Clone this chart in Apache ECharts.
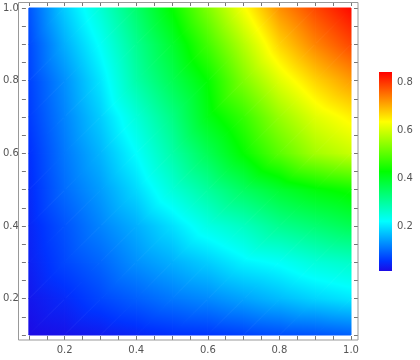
<!DOCTYPE html>
<html><head><meta charset="utf-8">
<script src="https://cdn.jsdelivr.net/npm/echarts@6/dist/echarts.min.js"></script>
<style>html,body{margin:0;padding:0;background:#fff}#c{width:420px;height:360px}</style>
</head><body><div id="c"></div>
<script>
// grid node coordinates
const xValues = [0.1, 0.2, 0.3, 0.4, 0.5, 0.6, 0.7, 0.8, 0.9, 1.0];
const yValues = [0.1, 0.2, 0.3, 0.4, 0.5, 0.6, 0.7, 0.8, 0.9, 1.0];
// values, one list per row (x = 0.1 ... 1.0)
const zY10 = [0.080, 0.180, 0.255, 0.340, 0.430, 0.530, 0.630, 0.725, 0.785, 0.835];
const zY09 = [0.070, 0.155, 0.225, 0.310, 0.390, 0.480, 0.575, 0.670, 0.735, 0.785];
const zY08 = [0.065, 0.130, 0.200, 0.290, 0.360, 0.430, 0.530, 0.610, 0.670, 0.715];
const zY07 = [0.060, 0.120, 0.180, 0.250, 0.320, 0.410, 0.470, 0.550, 0.610, 0.645];
const zY06 = [0.050, 0.110, 0.160, 0.220, 0.290, 0.360, 0.430, 0.500, 0.560, 0.590];
const zY05 = [0.045, 0.100, 0.140, 0.190, 0.250, 0.300, 0.350, 0.390, 0.420, 0.440];
const zY04 = [0.040, 0.080, 0.120, 0.155, 0.195, 0.240, 0.270, 0.310, 0.335, 0.360];
const zY03 = [0.035, 0.070, 0.095, 0.130, 0.155, 0.180, 0.210, 0.225, 0.250, 0.265];
const zY02 = [0.025, 0.045, 0.070, 0.090, 0.110, 0.125, 0.145, 0.165, 0.185, 0.200];
const zY01 = [0.012, 0.020, 0.030, 0.040, 0.050, 0.055, 0.065, 0.075, 0.080, 0.090];
const zRows = [zY01, zY02, zY03, zY04, zY05, zY06, zY07, zY08, zY09, zY10]; // by yValues order
// axis tick labels
const axisLabelValues = [0.2, 0.4, 0.6, 0.8, 1.0];
const barLabelValues = [0.2, 0.4, 0.6, 0.8];
const barTickValues = [0.05, 0.1, 0.15, 0.2, 0.25, 0.3, 0.35, 0.4, 0.45, 0.5, 0.55, 0.6, 0.65, 0.7, 0.75, 0.8];
const valueMin = 0.0125, valueMax = 0.842;

// colour scale (style)
const paletteStops = [0, 0.05, 0.25, 0.5, 0.75, 1];
const paletteColors = [[28, 10, 228], [0, 51, 255], [0, 255, 255], [0, 255, 0], [255, 255, 0], [255, 0, 0]];

function toT(v) {
  const t = (v - valueMin) / (valueMax - valueMin);
  return Math.max(0, Math.min(1, t));
}
function colorAt(v) {
  const t = toT(v);
  for (let i = 1; i < paletteStops.length; i++) {
    if (t <= paletteStops[i]) {
      const f = (t - paletteStops[i - 1]) / (paletteStops[i] - paletteStops[i - 1]);
      const a = paletteColors[i - 1], b = paletteColors[i];
      return 'rgb(' + [0, 1, 2].map(k => Math.round(a[k] + (b[k] - a[k]) * f)).join(',') + ')';
    }
  }
  const c = paletteColors[paletteColors.length - 1];
  return 'rgb(' + c.join(',') + ')';
}
// gradient stops between two values, exact at every palette break
function stopsBetween(vmin, vmax) {
  const stops = [{ offset: 0, color: colorAt(vmin) }];
  const t0 = toT(vmin), t1 = toT(vmax);
  for (let i = 1; i < paletteStops.length - 1; i++) {
    const s = paletteStops[i];
    if (s > t0 && s < t1) {
      const v = valueMin + s * (valueMax - valueMin);
      stops.push({ offset: (v - vmin) / (vmax - vmin), color: colorAt(v) });
    }
  }
  stops.push({ offset: 1, color: colorAt(vmax) });
  return stops;
}

// cells table built from the arrays
const cells = [];
for (let j = 0; j < yValues.length - 1; j++) {
  for (let i = 0; i < xValues.length - 1; i++) {
    cells.push([xValues[i], yValues[j], xValues[i + 1], yValues[j + 1],
      zRows[j][i], zRows[j][i + 1], zRows[j + 1][i], zRows[j + 1][i + 1]]);
  }
}

function tri(pts, vals) {
  const q0 = pts[0], q1 = pts[1], q2 = pts[2];
  const w0 = vals[0], w1 = vals[1], w2 = vals[2];
  const dx1 = q1[0] - q0[0], dy1 = q1[1] - q0[1], dx2 = q2[0] - q0[0], dy2 = q2[1] - q0[1];
  const det = dx1 * dy2 - dx2 * dy1;
  const a = ((w1 - w0) * dy2 - (w2 - w0) * dy1) / det;
  const b = (dx1 * (w2 - w0) - dx2 * (w1 - w0)) / det;
  const n2 = a * a + b * b;
  const vmin = Math.min(w0, w1, w2), vmax = Math.max(w0, w1, w2);
  let fill;
  if (n2 < 1e-14 || vmax - vmin < 1e-7) {
    fill = colorAt((vmin + vmax) / 2);
  } else {
    const s1 = (vmin - w0) / n2, s2 = (vmax - w0) / n2;
    fill = new echarts.graphic.LinearGradient(q0[0] + a * s1, q0[1] + b * s1, q0[0] + a * s2, q0[1] + b * s2,
      stopsBetween(vmin, vmax), true);
  }
  return { type: 'polygon', shape: { points: pts }, style: { fill: fill, stroke: fill, lineWidth: 1 }, silent: true };
}

function renderCell(params, api) {
  const x0 = api.value(0), y0 = api.value(1), x1 = api.value(2), y1 = api.value(3);
  const v00 = api.value(4), v10 = api.value(5), v01 = api.value(6), v11 = api.value(7);
  const p00 = api.coord([x0, y0]), p10 = api.coord([x1, y0]), p01 = api.coord([x0, y1]), p11 = api.coord([x1, y1]);
  return { type: 'group', children: [tri([p00, p10, p11], [v00, v10, v11]), tri([p00, p11, p01], [v00, v11, v01])] };
}

function renderBar(params, api) {
  const p0 = api.coord([api.value(0), api.value(1)]);
  const p1 = api.coord([api.value(2), api.value(3)]);
  const stops = paletteStops.map((s, i) => ({ offset: s, color: 'rgb(' + paletteColors[i].join(',') + ')' }));
  return { type: 'rect', shape: { x: p0[0], y: p1[1], width: p1[0] - p0[0], height: p0[1] - p1[1] },
    style: { fill: new echarts.graphic.LinearGradient(0, 1, 0, 0, stops) }, silent: true };
}

const fmt = v => {
  const r = Math.round(v * 100);
  return axisLabelValues.some(l => Math.round(l * 100) === r) ? (r / 100).toFixed(1) : '';
};
const tickColor = '#777';
const labelStyle = { color: '#555', fontSize: 10, fontFamily: 'DejaVu Sans' };

const chart = echarts.init(document.getElementById('c'), null, { renderer: 'canvas' });
chart.setOption({
  animation: false,
  grid: [
    { left: 25, top: 8, width: 326, height: 327 },
    { left: 379, top: 72, width: 13, height: 199 }
  ],
  xAxis: [
    { gridIndex: 0, type: 'value', min: 0.1, max: 1.0, interval: 0.05, position: 'bottom', offset: 5,
      axisLine: { show: false }, splitLine: { show: false },
      axisTick: { inside: true, length: 4, lineStyle: { color: tickColor } },
      axisLabel: Object.assign({ formatter: fmt, margin: 5 }, labelStyle) },
    { gridIndex: 0, type: 'value', min: 0.1, max: 1.0, interval: 0.05, position: 'top', offset: 6,
      axisLine: { show: false }, splitLine: { show: false },
      axisTick: { inside: true, length: 4, lineStyle: { color: tickColor } },
      axisLabel: { show: false } },
    { gridIndex: 1, type: 'value', min: 0, max: 1, show: false }
  ],
  yAxis: [
    { gridIndex: 0, type: 'value', min: 0.1, max: 1.0, interval: 0.05, position: 'left', offset: 7,
      axisLine: { show: false }, splitLine: { show: false },
      axisTick: { inside: true, length: 4, lineStyle: { color: tickColor } },
      axisLabel: Object.assign({ formatter: fmt, margin: 3 }, labelStyle) },
    { gridIndex: 0, type: 'value', min: 0.1, max: 1.0, interval: 0.05, position: 'right', offset: 7,
      axisLine: { show: false }, splitLine: { show: false },
      axisTick: { inside: true, length: 4, lineStyle: { color: tickColor } },
      axisLabel: { show: false } },
    { gridIndex: 1, type: 'value', min: valueMin, max: valueMax, position: 'right',
      axisLine: { show: false }, splitLine: { show: false },
      axisTick: { show: true, length: 3, customValues: barTickValues, lineStyle: { color: tickColor } },
      axisLabel: Object.assign({ customValues: barLabelValues, formatter: v => v.toFixed(1), margin: 5 }, labelStyle) }
  ],
  graphic: [
    { type: 'rect', shape: { x: 18.5, y: 2.5, width: 339.5, height: 337.5 },
      style: { fill: null, stroke: '#999', lineWidth: 1 }, z: 10, silent: true }
  ],
  series: [
    { type: 'custom', xAxisIndex: 0, yAxisIndex: 0, data: cells, renderItem: renderCell,
      encode: { x: [0, 2], y: [1, 3] }, silent: true },
    { type: 'custom', xAxisIndex: 2, yAxisIndex: 2, data: [[0, valueMin, 1, valueMax]], renderItem: renderBar,
      encode: { x: [0, 2], y: [1, 3] }, silent: true }
  ]
});
</script></body></html>
